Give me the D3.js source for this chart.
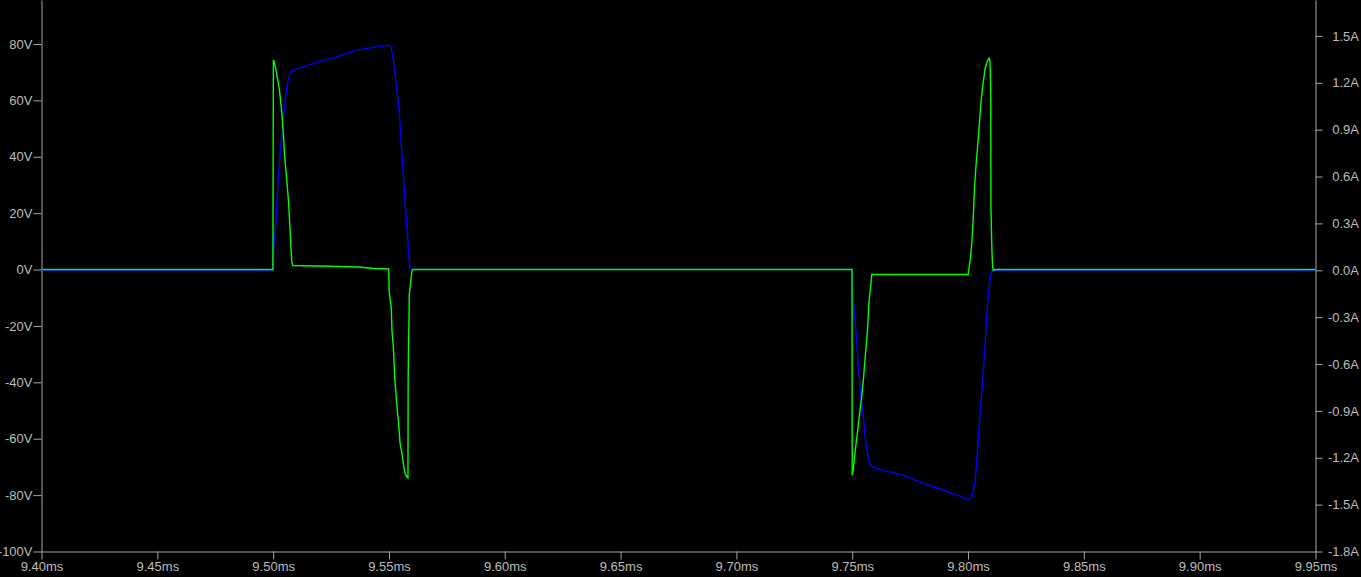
<!DOCTYPE html>
<html>
<head>
<meta charset="utf-8">
<script src="https://cdn.jsdelivr.net/npm/d3@7/dist/d3.min.js"></script>
<style>
  html, body { margin: 0; padding: 0; background: #000; }
  svg { display: block; }
  .axis text { font-family: "Liberation Sans", Arial, sans-serif; font-size: 13px; fill: #bdbdbd; }
  .axis line, .axis path { stroke: #a8a8a8; }
</style>
</head>
<body>
<svg id="chart" width="1361" height="577"></svg>
<script>
// ---- Data (time in ms) ----
const xTickValues = [9.40, 9.45, 9.50, 9.55, 9.60, 9.65, 9.70, 9.75, 9.80, 9.85, 9.90, 9.95];
const xTickLabels = ["9.40ms","9.45ms","9.50ms","9.55ms","9.60ms","9.65ms","9.70ms","9.75ms","9.80ms","9.85ms","9.90ms","9.95ms"];
const leftTickValues = [-100, -80, -60, -40, -20, 0, 20, 40, 60, 80];
const leftTickLabels = ["-100V","-80V","-60V","-40V","-20V","0V","20V","40V","60V","80V"];
const rightTickValues = [-1.8, -1.5, -1.2, -0.9, -0.6, -0.3, 0.0, 0.3, 0.6, 0.9, 1.2, 1.5];
const rightTickLabels = ["-1.8A","-1.5A","-1.2A","-0.9A","-0.6A","-0.3A","0.0A","0.3A","0.6A","0.9A","1.2A","1.5A"];

// Voltage trace (green, left axis): [time ms, volts]
const voltageTrace = [
  [9.4000, 0], [9.4999, 0], [9.5001, 74.3], [9.5005, 73.7], [9.5015, 69.6], [9.5027, 63.7],
  [9.5035, 57.7], [9.5041, 51.9], [9.5050, 40.0], [9.5059, 31.7], [9.5067, 23.5], [9.5073, 14.0],
  [9.5080, 3.3], [9.5084, 1.42], [9.5238, 1.17], [9.5371, 0.92], [9.5432, 0.36], [9.5499, 0.21],
  [9.5501, -7.95], [9.5510, -13.7], [9.5513, -21.6], [9.5519, -27.5], [9.5525, -38.1], [9.5530, -43.9],
  [9.5536, -49.9], [9.5542, -54.6], [9.5548, -61.7], [9.5556, -65.2], [9.5562, -68.7], [9.5568, -71.9],
  [9.5577, -73.6], [9.5582, -73.9], [9.5583, -37.5], [9.5588, -8.5], [9.5594, -4.4], [9.5599, -0.5],
  [9.5604, 0], [9.7499, 0],
  [9.7500, -73.0], [9.7504, -71.3], [9.7513, -64.2], [9.7522, -58.1], [9.7530, -52.3], [9.7539, -46.4],
  [9.7548, -39.3], [9.7556, -31.0], [9.7565, -22.7], [9.7573, -10.9], [9.7581, -5.0], [9.7584, -1.78],
  [9.8001, -1.78], [9.8005, 0.92], [9.8011, 4.47], [9.8017, 10.4], [9.8022, 17.5], [9.8028, 29.3],
  [9.8034, 36.4], [9.8040, 42.4], [9.8046, 48.3], [9.8051, 54.2], [9.8057, 60.1], [9.8063, 64.8],
  [9.8069, 68.4], [9.8074, 71.4], [9.8080, 73.1], [9.8087, 74.6], [9.8092, 74.9], [9.8095, 73.1],
  [9.8098, 63.7], [9.8099, 21.1], [9.8103, 6.9], [9.8106, 0.92], [9.8109, -0.25], [9.8115, 0],
  [9.9500, 0]
];

// Current trace (blue, right axis): [time ms, amps]
const currentTrace = [
  [9.4000, 0], [9.4999, 0], [9.5001, 0.107], [9.5012, 0.299], [9.5020, 0.534], [9.5027, 0.684],
  [9.5035, 0.833], [9.5041, 0.918], [9.5048, 1.025], [9.5056, 1.132], [9.5063, 1.206], [9.5070, 1.249],
  [9.5080, 1.277], [9.5109, 1.292], [9.5188, 1.331], [9.5274, 1.366], [9.5361, 1.409], [9.5447, 1.430],
  [9.5497, 1.441], [9.5508, 1.430], [9.5516, 1.377], [9.5526, 1.260], [9.5536, 1.132], [9.5545, 1.004],
  [9.5553, 0.812], [9.5562, 0.619], [9.5571, 0.406], [9.5577, 0.299], [9.5584, 0.128], [9.5591, 0.011],
  [9.5600, 0.006], [9.7499, 0.006],
  [9.7500, -0.075], [9.7510, -0.299], [9.7516, -0.384], [9.7522, -0.512], [9.7528, -0.641], [9.7534, -0.748],
  [9.7539, -0.833], [9.7545, -0.897], [9.7551, -0.982], [9.7556, -1.068], [9.7562, -1.132], [9.7569, -1.196],
  [9.7577, -1.245], [9.7591, -1.260], [9.7649, -1.286], [9.7721, -1.313], [9.7793, -1.356], [9.7865, -1.392],
  [9.7937, -1.430], [9.8002, -1.469], [9.8016, -1.456], [9.8023, -1.409], [9.8031, -1.345], [9.8038, -1.217],
  [9.8045, -1.068], [9.8052, -0.918], [9.8060, -0.769], [9.8067, -0.619], [9.8074, -0.469], [9.8081, -0.277],
  [9.8088, -0.149], [9.8095, -0.064], [9.8101, -0.008], [9.8109, 0], [9.9500, 0]
];

// ---- Layout ----
const plotLeft = 41.5, plotRight = 1315.5, plotTop = 0, plotBottom = 551.5;

const x = d3.scaleLinear().domain([9.40, 9.95]).range([plotLeft, plotRight]);
const yV = d3.scaleLinear().domain([-100, 95.6]).range([plotBottom, plotTop]);
const yA = d3.scaleLinear().domain([-1.8, 1.73]).range([plotBottom, plotTop]);

const svg = d3.select("#chart");
svg.append("rect").attr("width", 1361).attr("height", 577).attr("fill", "#000");

// Axes
const xAxis = d3.axisBottom(x).tickValues(xTickValues)
  .tickFormat((d, i) => xTickLabels[i]).tickSize(8).tickSizeOuter(0).tickPadding(2);
const gx = svg.append("g").attr("class", "axis").attr("transform", `translate(0,${plotBottom})`).call(xAxis);

const leftAxis = d3.axisLeft(yV).tickValues(leftTickValues)
  .tickFormat((d, i) => leftTickLabels[i]).tickSize(8).tickSizeOuter(0).tickPadding(1);
svg.append("g").attr("class", "axis").attr("transform", `translate(${plotLeft},0)`).call(leftAxis);

const rightAxis = d3.axisRight(yA).tickValues(rightTickValues)
  .tickFormat((d, i) => rightTickLabels[i]).tickSize(7).tickSizeOuter(0).tickPadding(1);
const gr = svg.append("g").attr("class", "axis").attr("transform", `translate(${plotRight},0)`).call(rightAxis);
gr.selectAll("text").attr("text-anchor", "end").attr("x", 1359 - plotRight);

// Traces
const lineV = d3.line().x(d => x(d[0])).y(d => yV(d[1]));
const lineA = d3.line().x(d => x(d[0])).y(d => yA(d[1]));

const clip = svg.append("clipPath").attr("id", "plotclip").append("rect")
  .attr("x", plotLeft).attr("y", plotTop).attr("width", plotRight - plotLeft).attr("height", plotBottom - plotTop);

const traces = svg.append("g").attr("clip-path", "url(#plotclip)");
traces.append("path").datum(currentTrace).attr("d", lineA)
  .attr("fill", "none").attr("stroke", "#0000ff").attr("stroke-width", 1.4);
traces.append("path").datum(voltageTrace).attr("d", lineV)
  .attr("fill", "none").attr("stroke", "#00ff00").attr("stroke-width", 1.4);
</script>
</body>
</html>
